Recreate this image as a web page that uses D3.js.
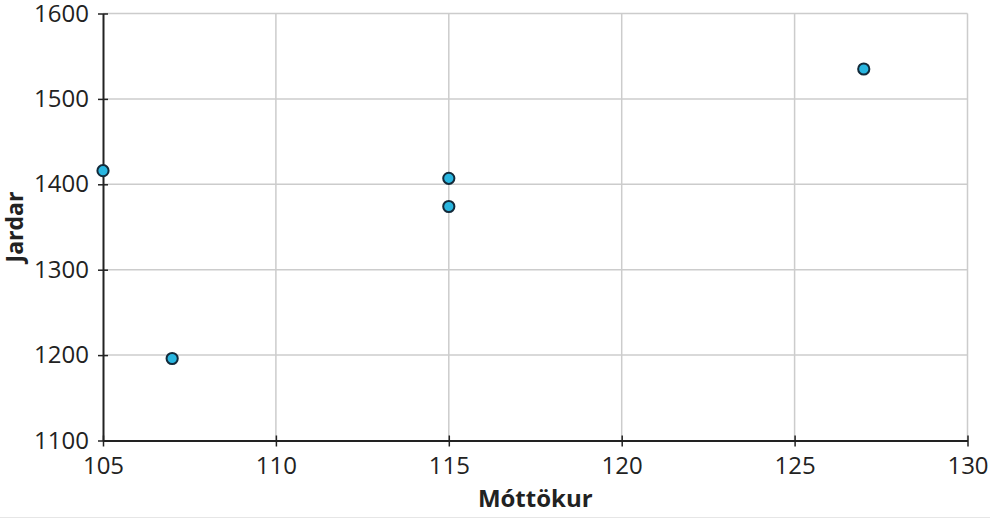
<!DOCTYPE html>
<html>
<head>
<meta charset="utf-8">
<script src="https://cdn.jsdelivr.net/npm/d3@7"></script>
<style>
  html, body { margin: 0; padding: 0; background: #fff; }
  svg { display: block; font-family: "Open Sans", "Noto Sans", sans-serif; }
</style>
</head>
<body>
<svg id="chart" width="990" height="519"></svg>
<script>
const receptions = [105, 107, 115, 115, 127];
const yards = [1416, 1196, 1407, 1374, 1535];
const xTicks = [105, 110, 115, 120, 125, 130];
const yTicks = [1100, 1200, 1300, 1400, 1500, 1600];
const xTitle = "Móttökur";
const yTitle = "Jardar";

const svg = d3.select("#chart");
const mLeft = 103, mRight = 967.5, mTop = 13.5, mBottom = 440.5;

const x = d3.scaleLinear().domain([105, 130]).range([mLeft, mRight]);
const y = d3.scaleLinear().domain([1100, 1600]).range([mBottom, mTop]);

// grid
svg.append("g").selectAll("line").data(xTicks.slice(1)).join("line")
  .attr("x1", d => x(d)).attr("x2", d => x(d))
  .attr("y1", mTop).attr("y2", mBottom)
  .attr("stroke", "#cccccc").attr("stroke-width", 1.5);
svg.append("g").selectAll("line").data(yTicks.slice(1)).join("line")
  .attr("x1", mLeft).attr("x2", mRight)
  .attr("y1", d => y(d)).attr("y2", d => y(d))
  .attr("stroke", "#cccccc").attr("stroke-width", 1.5);

// axes
const fmt = d3.format("d");
const xAxis = svg.append("g").attr("transform", `translate(0,${mBottom})`)
  .call(d3.axisBottom(x).tickValues(xTicks).tickFormat(fmt).tickSizeInner(6).tickSizeOuter(0).tickPadding(10));
xAxis.selectAll(".tick line").attr("y1", -5);
const yAxis = svg.append("g").attr("transform", `translate(${mLeft},0)`)
  .call(d3.axisLeft(y).tickValues(yTicks).tickFormat(fmt).tickSizeInner(5).tickSizeOuter(0).tickPadding(9));
yAxis.selectAll(".tick line").attr("x1", 5);
[xAxis, yAxis].forEach(a => {
  a.select(".domain").attr("stroke", "#222").attr("stroke-width", 2);
  a.selectAll(".tick line").attr("stroke", "#222").attr("stroke-width", 1.5);
  a.selectAll(".tick text").attr("font-size", 24).attr("fill", "#222")
    .attr("font-family", '"Open Sans", sans-serif');
});

// titles
svg.append("text").attr("x", (mLeft + mRight) / 2).attr("y", 507)
  .attr("text-anchor", "middle").attr("font-size", 24).attr("font-weight", "bold")
  .attr("fill", "#222").text(xTitle);
svg.append("text").attr("transform", `translate(23,${(mTop + mBottom) / 2}) rotate(-90)`)
  .attr("text-anchor", "middle").attr("font-size", 23).attr("font-weight", "bold")
  .attr("fill", "#222").text(yTitle);

// bottom faint border
svg.append("line").attr("x1", 0).attr("x2", 990).attr("y1", 517.5).attr("y2", 517.5)
  .attr("stroke", "#e6e6e6").attr("stroke-width", 1);

// points
svg.append("g").selectAll("circle").data(receptions.map((r, i) => ({r, v: yards[i]}))).join("circle")
  .attr("cx", d => x(d.r)).attr("cy", d => y(d.v)).attr("r", 5.6)
  .attr("fill", "#29b6e0").attr("stroke", "#132a3a").attr("stroke-width", 2);
</script>
</body>
</html>
